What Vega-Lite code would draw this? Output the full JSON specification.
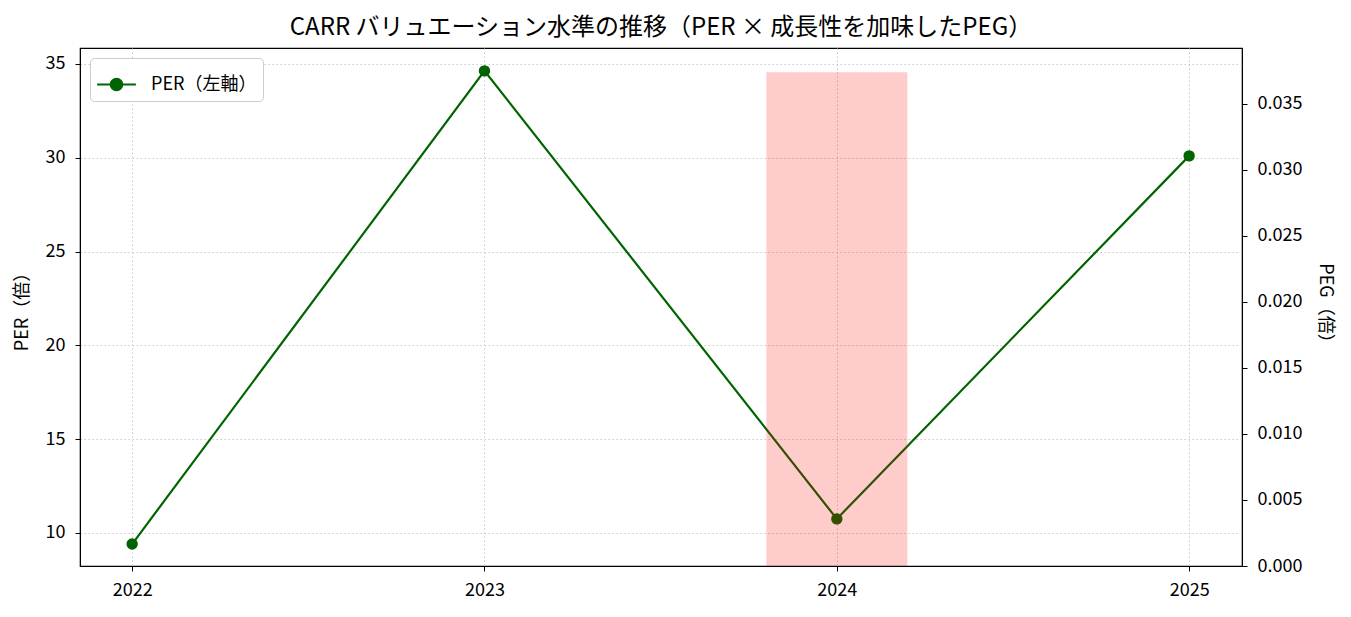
{
  "$schema": "https://vega.github.io/schema/vega-lite/v6.json",
  "width": 1162,
  "height": 518,
  "autosize": "none",
  "padding": {"left": 80, "top": 48, "right": 109, "bottom": 51},
  "background": "white",
  "config": {
    "font": "Noto Sans CJK JP",
    "view": {"stroke": "black", "strokeWidth": 1.2},
    "axis": {
      "labelFont": "Noto Sans CJK JP",
      "titleFont": "Noto Sans CJK JP",
      "labelFontSize": 18,
      "titleFontSize": 18,
      "titleFontWeight": "normal",
      "labelColor": "black",
      "titleColor": "black",
      "domainColor": "black",
      "tickColor": "black",
      "tickSize": 5,
      "labelPadding": 6,
      "gridColor": "#c8c8c8",
      "gridDash": [1.5, 2.5],
      "gridWidth": 1
    }
  },
  "title": {
    "text": "CARR バリュエーション水準の推移（PER × 成長性を加味したPEG）",
    "fontSize": 24,
    "fontWeight": "normal",
    "color": "black",
    "offset": 8
  },
  "data": {
    "values": [
      {"year": 2022, "per": 9.41, "peg": null},
      {"year": 2023, "per": 34.63, "peg": null},
      {"year": 2024, "per": 10.75, "peg": 0.0374},
      {"year": 2025, "per": 30.1, "peg": null}
    ]
  },
  "encoding": {
    "x": {
      "field": "year",
      "type": "quantitative",
      "scale": {"domain": [2021.852, 2025.15], "nice": false, "zero": false, "padding": 0},
      "axis": {
        "values": [2022, 2023, 2024, 2025],
        "format": "d",
        "title": null,
        "labelPadding": 10,
        "grid": true
      }
    }
  },
  "layer": [
    {
      "layer": [
        {
          "mark": {"type": "line", "strokeWidth": 2.2},
          "encoding": {
            "y": {"field": "per", "type": "quantitative"},
            "color": {"datum": "PER（左軸）"}
          }
        },
        {
          "mark": {"type": "point", "filled": true, "size": 130, "opacity": 1},
          "encoding": {
            "y": {"field": "per", "type": "quantitative"},
            "color": {"datum": "PER（左軸）"}
          }
        }
      ],
      "encoding": {
        "y": {
          "field": "per",
          "type": "quantitative",
          "scale": {"domain": [8.24, 35.85], "nice": false, "zero": false},
          "axis": {
            "values": [10, 15, 20, 25, 30, 35],
            "title": "PER（倍）",
            "titlePadding": 14,
            "labelPadding": 10,
            "grid": true,
            "orient": "left"
          }
        },
        "color": {
          "datum": "PER（左軸）",
          "scale": {"range": ["#006400"]},
          "legend": {
            "title": null,
            "orient": "top-left",
            "offset": 10,
            "labelFontSize": 18,
            "labelFont": "Noto Sans CJK JP",
            "labelColor": "black",
            "symbolType": "M -1 0 L 1 0 M -0.3 0 A 0.3 0.3 0 1 0 0.3 0 A 0.3 0.3 0 1 0 -0.3 0 Z",
            "symbolSize": 1500,
            "symbolStrokeWidth": 2,
            "symbolFillColor": "#006400",
            "symbolStrokeColor": "#006400",
            "strokeColor": "#cccccc",
            "fillColor": "white",
            "cornerRadius": 4,
            "padding": 6,
            "labelOffset": 14
          }
        }
      }
    },
    {
      "transform": [{"filter": "isValid(datum.peg)"}],
      "mark": {"type": "bar", "orient": "vertical", "size": 141, "color": "red", "opacity": 0.2},
      "encoding": {
        "y": {
          "field": "peg",
          "type": "quantitative",
          "scale": {"domain": [0, 0.03924], "nice": false},
          "axis": {
            "values": [0, 0.005, 0.01, 0.015, 0.02, 0.025, 0.03, 0.035],
            "format": ".3f",
            "title": "PEG（倍）",
            "titlePadding": 14,
            "labelPadding": 10,
            "grid": false,
            "orient": "right"
          }
        }
      }
    }
  ],
  "resolve": {"scale": {"y": "independent"}}
}
